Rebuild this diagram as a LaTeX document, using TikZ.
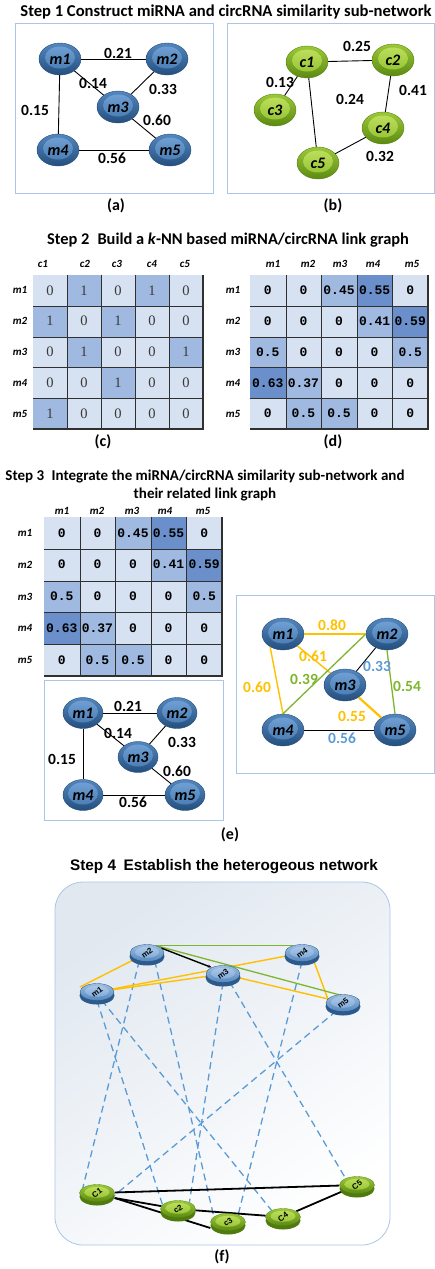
\documentclass[tikz,border=0pt]{standalone}
\usepackage{graphicx}
\usepackage{fontspec}
\setmainfont{Carlito}
\newfontfamily\arialf{Liberation Sans}
\newfontfamily\monof{Liberation Mono}
\newfontfamily\serf{Liberation Serif}
\usetikzlibrary{shapes.geometric,calc,arrows.meta}
\pgfdeclarelayer{back}
\pgfdeclarelayer{edges}
\pgfsetlayers{back,edges,main}
\definecolor{boxc}{HTML}{A9C6E8}
\definecolor{bEdge}{HTML}{23507E}
\definecolor{bOutA}{HTML}{5487BE}
\definecolor{bOutB}{HTML}{244F7E}
\definecolor{bInA}{HTML}{74A3D6}
\definecolor{bInB}{HTML}{4276AE}
\definecolor{gEdge}{HTML}{5A8512}
\definecolor{gOutA}{HTML}{9CC93A}
\definecolor{gOutB}{HTML}{5C8A12}
\definecolor{gInA}{HTML}{C2E260}
\definecolor{gInB}{HTML}{8DBE2C}
\definecolor{bbase}{HTML}{2C5A8C}
\definecolor{gbase}{HTML}{4F7A0E}
\definecolor{yel}{HTML}{FFC000}
\definecolor{grn}{HTML}{7DB52C}
\definecolor{lblue}{HTML}{5B9BD5}
\definecolor{cellL}{HTML}{D6E1F1}
\definecolor{cellM}{HTML}{A0B9E0}
\definecolor{cellD}{HTML}{6A8FCA}
\definecolor{gridc}{HTML}{303030}
\definecolor{valc}{HTML}{3A3A3A}
\definecolor{boxTop}{HTML}{E1E8F0}

\newcommand\mydisc[5]{%
  \fill[#5base] (#2,#3+3.5) ellipse [x radius=17.5pt, y radius=9pt];
  \node[disc#5] (#1) at (#2,#3) {\rotatebox{35}{#4}};
}

\tikzset{
  panel/.style={draw=boxc, line width=0.8pt},
  title/.style={inner sep=0pt, align=center},
  plabel/.style={font=\fontsize{16}{16}\selectfont\bfseries, inner sep=0pt},
  elab/.style={font=\fontsize{15.5}{15.5}\selectfont\bfseries, inner sep=0pt},
  hdr/.style={font=\fontsize{11}{11}\selectfont\bfseries\itshape, inner sep=0pt},
  ball/.style={ellipse, minimum width=42pt, minimum height=32pt, inner sep=0pt,
    font=\fontsize{16}{16}\selectfont\bfseries\itshape},
  bball/.style={ball, draw=bEdge, line width=0.4pt, top color=bOutA, bottom color=bOutB,
    path picture={\shade[top color=bInA, bottom color=bInB]
      ([yshift=1.5pt]path picture bounding box.center) ellipse [x radius=15pt, y radius=11pt];}},
  gball/.style={ball, draw=gEdge, line width=0.4pt, top color=gOutA, bottom color=gOutB,
    path picture={\shade[top color=gInA, bottom color=gInB]
      ([yshift=1.5pt]path picture bounding box.center) ellipse [x radius=15pt, y radius=11pt];}},
  sball/.style={bball, minimum width=40pt, minimum height=31pt},
  link/.style={line width=0.9pt, draw=black},
  cellc/.style={rectangle, inner sep=0pt, minimum width=34pt, minimum height=30.8pt,
    font=\serf\fontsize{14.5}{14.5}\selectfont, text=valc},
  celld/.style={rectangle, inner sep=0pt, minimum width=35.6pt, minimum height=30.8pt,
    font=\monof\bfseries\fontsize{13}{13}\selectfont},
  celle/.style={celld, minimum height=31.8pt},
  gridl/.style={draw=gridc, line width=0.6pt},
  gridb/.style={draw=gridc, line width=1.5pt},
  discb/.style={ellipse, minimum width=34pt, minimum height=17pt, inner sep=0pt,
    draw=bEdge, line width=0.3pt, top color=bInA!70!white, bottom color=bOutA,
    font=\arialf\bfseries\fontsize{8}{8}\selectfont,
    path picture={\shade[top color=bInA!55!white, bottom color=bInA]
      ([yshift=0.8pt]path picture bounding box.center) ellipse [x radius=12pt, y radius=5.5pt];}},
  discg/.style={ellipse, minimum width=35pt, minimum height=17pt, inner sep=0pt,
    draw=gEdge, line width=0.3pt, top color=gOutA, bottom color=gOutB,
    font=\arialf\bfseries\fontsize{8}{8}\selectfont,
    path picture={\shade[top color=gInA, bottom color=gInB]
      ([yshift=0.8pt]path picture bounding box.center) ellipse [x radius=12.5pt, y radius=5.5pt];}},
  dashl/.style={draw=lblue, line width=1.3pt, dash pattern=on 7pt off 4.5pt},
  yline/.style={draw=yel, line width=1.4pt},
  gline/.style={draw=grn, line width=1.3pt},
}

\begin{document}
\begin{tikzpicture}[x=1pt,y=-1pt]
\useasboundingbox (0,0) rectangle (435,1269);

% ---------------- Step 1
\node[title, font=\fontsize{16.6}{18}\selectfont\bfseries] (t1) at (226,12) {Step 1 Construct miRNA and circRNA similarity sub-network};
\draw[panel] (15,23) rectangle (213,193);
\draw[panel] (227,23) rectangle (434,193);

\node[bball] (a1) at (60,59) {m1};
\node[bball] (a2) at (167,59) {m2};
\node[bball] (a3) at (118,107) {m3};
\node[bball] (a4) at (58,150) {m4};
\node[bball] (a5) at (170,150) {m5};
\draw[link] (a1) -- (a2);
\draw[link] (a1) -- (a3);
\draw[link] (a2) -- (a3);
\draw[link] (a1) -- (a4);
\draw[link] (a3) -- (a5);
\draw[link] (a4) -- (a5);
\node[elab] (la1) at (118,53) {0.21};
\node[elab] (la2) at (93,83) {0.14};
\node[elab] (la3) at (163,89) {0.33};
\node[elab] (la4) at (35,110) {0.15};
\node[elab] (la5) at (157,120) {0.60};
\node[elab] (la6) at (112,158) {0.56};

\node[gball] (b1) at (307,62) {c1};
\node[gball] (b2) at (393,60) {c2};
\node[gball] (b3) at (275,110) {c3};
\node[gball] (b4) at (383,128) {c4};
\node[gball] (b5) at (318,163) {c5};
\draw[link] (b1) -- (b2);
\draw[link] (b1) -- (b3);
\draw[link] (b1) -- (b5);
\draw[link] (b2) -- (b4);
\draw[link] (b4) -- (b5);
\node[elab] (lb1) at (357,46) {0.25};
\node[elab] (lb2) at (280,82) {0.13};
\node[elab] (lb3) at (350,99) {0.24};
\node[elab] (lb4) at (413,90) {0.41};
\node[elab] (lb5) at (380,156) {0.32};

\node[plabel] (pa) at (116,206) {(a)};
\node[plabel] (pb) at (333,206) {(b)};

% ---------------- Step 2
\node[title, font=\fontsize{16.4}{18}\selectfont\bfseries] (t2) at (228,240) {Step 2\enspace Build a \textit{k}-NN based miRNA/circRNA link graph};

\foreach \rowv [count=\r] in {{0,1,0,1,0},{1,0,1,0,0},{0,1,0,0,1},{0,0,1,0,0},{1,0,0,0,0}}{
  \foreach \v [count=\c] in \rowv {
    \ifnum\v=1 \def\k{M}\else\def\k{L}\fi
    \node[cellc, fill=cell\k] (mc-\r-\c) at ({33+(\c-0.5)*34},{275+(\r-0.5)*30.8}) {\v};
  }
}
\foreach \i in {1,...,4}{
  \draw[gridl] (mc-1-\i.north east) -- (mc-5-\i.south east);
  \draw[gridl] (mc-\i-1.south west) -- (mc-\i-5.south east);
}
\draw[gridb] (mc-1-5.north east) -- (mc-5-5.south east) -- (mc-5-1.south west);
\foreach \m [count=\r] in {m1,m2,m3,m4,m5}
  \node[hdr] (rc-\r) at (20,{275+(\r-0.5)*30.8}) {\m};
\foreach \m/\x [count=\c] in {c1/43,c2/85,c3/117,c4/152,c5/185}
  \node[hdr] (hc-\c) at (\x,264) {\m};

\foreach \rowv [count=\r] in {{0/L,0/L,0.45/M,0.55/D,0/L},{0/L,0/L,0/L,0.41/M,0.59/D},{0.5/M,0/L,0/L,0/L,0.5/M},{0.63/D,0.37/M,0/L,0/L,0/L},{0/L,0.5/M,0.5/M,0/L,0/L}}{
  \foreach \v/\k [count=\c] in \rowv {
    \node[celld, fill=cell\k] (md-\r-\c) at ({250+(\c-0.5)*35.6},{275+(\r-0.5)*30.8}) {\v};
  }
}
\foreach \i in {1,...,4}{
  \draw[gridl] (md-1-\i.north east) -- (md-5-\i.south east);
  \draw[gridl] (md-\i-1.south west) -- (md-\i-5.south east);
}
\draw[gridb] (md-1-5.north east) -- (md-5-5.south east) -- (md-5-1.south west);
\foreach \m [count=\r] in {m1,m2,m3,m4,m5}
  \node[hdr] (rd-\r) at (233,{275+(\r-0.5)*30.8}) {\m};
\foreach \m/\x [count=\c] in {m1/273,m2/308,m3/340,m4/373,m5/412}
  \node[hdr] (hd-\c) at (\x,264) {\m};

\node[plabel] (pc) at (103,442) {(c)};
\node[plabel] (pd) at (333,442) {(d)};

% ---------------- Step 3
\node[title, font=\fontsize{15}{18}\selectfont\bfseries] (t3) at (205,486) {Step 3\enspace Integrate the miRNA/circRNA similarity sub-network and\\their related link graph};

\foreach \rowv [count=\r] in {{0/L,0/L,0.45/M,0.55/D,0/L},{0/L,0/L,0/L,0.41/M,0.59/D},{0.5/M,0/L,0/L,0/L,0.5/M},{0.63/D,0.37/M,0/L,0/L,0/L},{0/L,0.5/M,0.5/M,0/L,0/L}}{
  \foreach \v/\k [count=\c] in \rowv {
    \node[celle, fill=cell\k] (me-\r-\c) at ({44+(\c-0.5)*35.6},{517+(\r-0.5)*31.8}) {\v};
  }
}
\foreach \i in {1,...,4}{
  \draw[gridl] (me-1-\i.north east) -- (me-5-\i.south east);
  \draw[gridl] (me-\i-1.south west) -- (me-\i-5.south east);
}
\draw[gridb] (me-1-5.north east) -- (me-5-5.south east) -- (me-5-1.south west);
\foreach \m [count=\r] in {m1,m2,m3,m4,m5}
  \node[hdr] (re-\r) at (25,{517+(\r-0.5)*31.8}) {\m};
\foreach \m/\x [count=\c] in {m1/62,m2/97,m3/132,m4/165,m5/203}
  \node[hdr] (he-\c) at (\x,511) {\m};

\draw[panel] (44,680) rectangle (223,820);
\node[sball] (e1) at (83,713) {m1};
\node[sball] (e2) at (177,713) {m2};
\node[sball] (e3) at (138,757) {m3};
\node[sball] (e4) at (83,795) {m4};
\node[sball] (e5) at (185,795) {m5};
\draw[link] (e1) -- (e2);
\draw[link] (e1) -- (e3);
\draw[link] (e2) -- (e3);
\draw[link] (e1) -- (e4);
\draw[link] (e3) -- (e5);
\draw[link] (e4) -- (e5);
\node[elab] (le1) at (128,706) {0.21};
\node[elab] (le2) at (118,733) {0.14};
\node[elab] (le3) at (182,742) {0.33};
\node[elab] (le4) at (62,759) {0.15};
\node[elab] (le5) at (177,771) {0.60};
\node[elab] (le6) at (133,802) {0.56};

\draw[panel] (236,595) rectangle (434,773);
\node[bball] (f1) at (283,634) {m1};
\node[bball] (f2) at (387,634) {m2};
\node[bball] (f3) at (345,685) {m3};
\node[bball] (f4) at (283,730) {m4};
\node[bball] (f5) at (395,730) {m5};
\draw[yline] (f1) -- (f2);
\draw[yline] (f1) -- (f3);
\draw[yline] (f1.225) -- (f4.north);
\draw[gline] (f4.north) -- (f2.west);
\draw[link] (f2) -- (f3);
\draw[gline] (f2.south) -- (f5.north);
\draw[yel, line width=2.2pt] (f3) -- (f5);
\draw[link] (f4) -- (f5);
\node[elab, text=yel] (lf1) at (332,625) {0.80};
\node[elab, text=yel] (lf2) at (313,656) {0.61};
\node[elab, text=lblue] (lf3) at (377,666) {0.33};
\node[elab, text=grn] (lf4) at (304,679) {0.39};
\node[elab, text=yel] (lf5) at (257,687) {0.60};
\node[elab, text=grn] (lf6) at (407,686) {0.54};
\node[elab, text=yel] (lf7) at (352,716) {0.55};
\node[elab, text=lblue] (lf8) at (342,738) {0.56};

\node[plabel] (pe) at (230,835) {(e)};

% ---------------- Step 4
\node[font=\arialf\bfseries\fontsize{15.3}{15.3}\selectfont, inner sep=0pt] (t4) at (224,867) {Step 4\enspace Establish the heterogeous network};
\begin{pgfonlayer}{back}
\path[draw=boxc, line width=0.8pt, top color=boxTop, bottom color=white, shading angle=35, rounded corners=28pt] (55,882) rectangle (390,1245);
\end{pgfonlayer}

\mydisc{sm2}{147}{953}{m2}{b}
\mydisc{sm4}{302}{953}{m4}{b}
\mydisc{sm3}{223}{974}{m3}{b}
\mydisc{sm1}{97}{992}{m1}{b}
\mydisc{sm5}{343}{1003}{m5}{b}
\mydisc{sc1}{97}{1193}{C1}{g}
\mydisc{sc2}{178}{1209}{c2}{g}
\mydisc{sc3}{228}{1222}{c3}{g}
\mydisc{sc4}{283}{1217}{C4}{g}
\mydisc{sc5}{357}{1185}{C5}{g}
\coordinate (k0) at (80,987);

\begin{pgfonlayer}{edges}
\draw[dashl] (sm2.225) -- (sc1.160);
\draw[dashl] (sm2.315) -- (sc3.160);
\draw[dashl] (sm1.270) -- (sc2.165);
\draw[dashl] (sm1.300) -- (sc4.150);
\draw[dashl] (sm3.270) -- (sc2.30);
\draw[dashl] (sm3.310) -- (sc5.150);
\draw[dashl] (sm4.270) -- (sc3.35);
\draw[dashl] (sm5.230) -- (sc1.340);
\draw[yline] (k0) -- (sm2);
\draw[yline] (sm1) -- (sm4);
\draw[yline] (sm1) -- (sm3);
\draw[yline] (sm3) -- (sm5.165) -- (sm4.330);
\draw[gline] (sm2.40) -- (sm4.140);
\draw[gline] (sm2.40) -- (sm5.10);
\draw[line width=1.4pt, -{Stealth[length=4pt]}] (sm2.20) -- (sm3.150);
\draw[line width=1.8pt] (sc1) -- (sc5);
\draw[line width=1.8pt] ([yshift=-5pt]sc1.east) -- (sc2);
\draw[line width=1.8pt] ([yshift=-5pt]sc1.east) -- ([yshift=-6pt]sc3.west);
\draw[line width=1.8pt] (sc2) -- (sc4);
\draw[line width=1.8pt] (sc4) -- (sc5);
\end{pgfonlayer}

\node[plabel] (pf) at (222,1257) {(f)};
\end{tikzpicture}
\end{document}
